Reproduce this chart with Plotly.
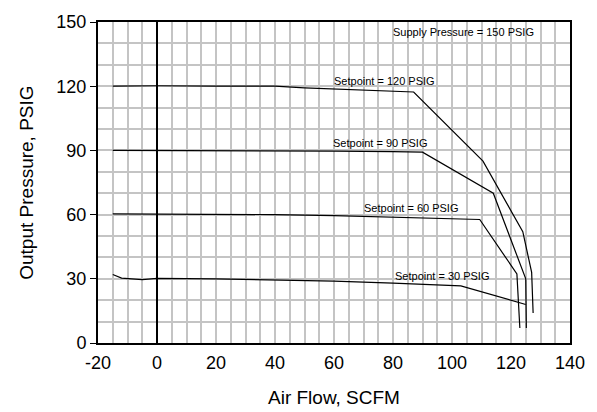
import plotly.graph_objects as go

# Data (Air Flow SCFM vs Output Pressure PSIG)
x120 = [-15, 0, 20, 40, 50, 68, 87, 110.5, 124, 127, 127.5]
y120 = [120, 120.2, 120, 120, 119.2, 118.3, 117.3, 85, 52, 33, 14]

x90 = [-15, 0, 20, 40, 60, 80, 90, 114, 125, 125.2]
y90 = [90, 90, 89.9, 89.9, 89.7, 89.4, 89.2, 70, 30, 7]

x60 = [-15, 0, 20, 40, 60, 80, 109.4, 122, 123]
y60 = [60.3, 60.2, 60.1, 60, 59.5, 58.8, 57.7, 32.3, 7]

x30 = [-15, -12, -5, 0, 20, 40, 60, 80, 103, 125]
y30 = [32, 30.3, 29.6, 30.2, 30, 29.6, 28.9, 28, 26.7, 18]

series = [(x120, y120), (x90, y90), (x60, y60), (x30, y30)]

labels = ["Supply Pressure = 150 PSIG", "Setpoint = 120 PSIG", "Setpoint = 90 PSIG",
          "Setpoint = 60 PSIG", "Setpoint = 30 PSIG"]
label_x = [104, 77, 75.5, 86, 96.5]
label_y = [145.2, 122.6, 93.4, 63.2, 31.4]

x_ticks = [-20, 0, 20, 40, 60, 80, 100, 120, 140]
x_ticktext = ["-20", "0", "20", "40", "60", "80", "100", "120", "140"]
y_ticks = [0, 30, 60, 90, 120, 150]

FONT = "Liberation Sans, Arial, sans-serif"

fig = go.Figure()
for xs, ys in series:
    fig.add_trace(go.Scatter(x=xs, y=ys, mode="lines",
                             line=dict(color="black", width=1.2),
                             showlegend=False, hoverinfo="skip"))

for t, lx, ly in zip(labels, label_x, label_y):
    fig.add_annotation(x=lx, y=ly, text=t, showarrow=False,
                       font=dict(family=FONT, size=11, color="black"),
                       xanchor="center", yanchor="middle")

GRID = "#c4c4c4"
fig.update_xaxes(range=[-20, 140], tickvals=x_ticks, ticktext=x_ticktext,
                 showgrid=True, gridcolor=GRID, gridwidth=1.5,
                 minor=dict(dtick=5, tick0=0, showgrid=True, gridcolor=GRID, gridwidth=1.5),
                 zeroline=True, zerolinecolor="black", zerolinewidth=1.5,
                 showline=True, linecolor="black", linewidth=2, mirror=True,
                 ticks="", ticklabelstandoff=2,
                 tickfont=dict(family=FONT, size=18, color="black"))
fig.update_yaxes(range=[0, 150], tickvals=y_ticks,
                 showgrid=True, gridcolor=GRID, gridwidth=1.5,
                 minor=dict(dtick=10, tick0=0, showgrid=True, gridcolor=GRID, gridwidth=1.5),
                 zeroline=False,
                 showline=True, linecolor="black", linewidth=2, mirror=True,
                 ticks="outside", ticklen=6, tickcolor="black", tickwidth=1,
                 tickfont=dict(family=FONT, size=18, color="black"))

fig.add_annotation(xref="paper", yref="paper", x=0.5, y=-0.169, yanchor="middle",
                   text="Air Flow, SCFM", showarrow=False,
                   font=dict(family=FONT, size=19, color="black"))
fig.add_annotation(xref="paper", yref="paper", x=-0.152, y=0.5, xanchor="center",
                   yanchor="middle",
                   text="Output Pressure, PSIG", showarrow=False, textangle=-90,
                   font=dict(family=FONT, size=19, color="black"))

fig.update_layout(width=597, height=412, autosize=False,
                  margin=dict(l=98, r=25, t=17, b=69),
                  paper_bgcolor="white", plot_bgcolor="white",
                  font=dict(family=FONT, color="black"))

fig.write_html("out.html")
